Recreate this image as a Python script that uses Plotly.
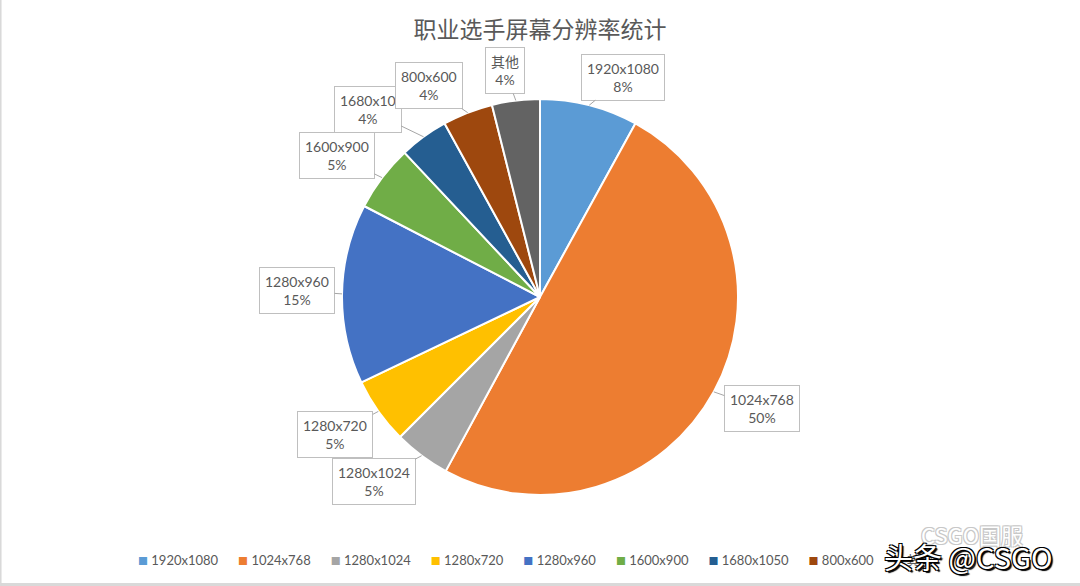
import math
import plotly.graph_objects as go

# ---- data ----
categories = ["1920x1080", "1024x768", "1280x1024", "1280x720", "1280x960",
              "1600x900", "1680x1050", "800x600", "其他"]
shares = [8.0, 49.9, 4.6, 5.4, 14.7, 5.4, 4.0, 4.1, 3.9]
label_text = ["1920x1080", "1024x768", "1280x1024", "1280x720", "1280x960",
              "1600x900", "1680x10", "800x600", "其他"]
title_text = "职业选手屏幕分辨率统计"

# ---- styles / layout ----
colors = ["#5B9BD5", "#ED7D31", "#A5A5A5", "#FFC000", "#4472C4",
          "#70AD47", "#255E91", "#9E480E", "#636363"]
label_offsets = [(34, -28), (48, 17), (-48, 26), (-43, 23), (-45, -3),
                 (-45, -22), (-56, -27), (-39, -27), (-11, -30)]

W, H = 1080, 586
ML, MR, MT, MB = 0, 0, 99, 91
PW, PH = W - ML - MR, H - MT - MB
R = min(PW, PH) / 2
CX, CY = ML + PW / 2, MT + PH / 2


def px_x(x):
    return (x - ML) / PW


def px_y(y):
    return 1 - (y - MT) / PH


fig = go.Figure(go.Pie(
    labels=categories, values=shares, sort=False, direction="clockwise",
    rotation=0, textinfo="none", showlegend=False,
    marker=dict(colors=colors, line=dict(color="white", width=2)),
))

total = sum(shares)
annotations = []
cum = 0.0
for cat, txt, v, (ox, oy) in zip(categories, label_text, shares, label_offsets):
    mid = (cum + v / 2) / total * 2 * math.pi
    cum += v
    px = CX + R * math.sin(mid)
    py = CY - R * math.cos(mid)
    pct = round(v / total * 100)
    annotations.append(dict(
        x=px_x(px), y=px_y(py), xref="paper", yref="paper",
        text=f"{txt}<br>{pct}%", showarrow=True, arrowhead=0, arrowwidth=1,
        arrowcolor="#a6a6a6", ax=ox, ay=oy, standoff=0,
        font=dict(family="Lato, Noto Sans CJK SC", size=14, color="#595959"),
        align="center", bgcolor="white", bordercolor="#bfbfbf",
        borderwidth=1, borderpad=5,
    ))

# legend (text + coloured squares), built from categories and colors
gap = "&nbsp;" * 6
legend_html = gap.join(
    f"<span style='color:{c};font-size:10px'>■</span>&nbsp;{cat}"
    for cat, c in zip(categories, colors)
)
annotations.append(dict(
    x=px_x(535), y=px_y(560), xref="paper", yref="paper", showarrow=False,
    text=legend_html, xanchor="center", yanchor="middle",
    font=dict(family="Lato, Noto Sans CJK SC", size=13, color="#595959"),
))

# watermark texts
annotations.append(dict(
    x=px_x(972), y=px_y(534), xref="paper", yref="paper",
    xanchor="center", yanchor="middle",
    text="CSGO国服", showarrow=False,
    font=dict(family="Noto Sans CJK SC", size=22, color="white",
              shadow="1px 1px 0 #c8c8c8, -1px -1px 0 #c8c8c8, 1px -1px 0 #c8c8c8, -1px 1px 0 #c8c8c8"),
))
annotations.append(dict(
    x=px_x(968), y=px_y(556), xref="paper", yref="paper",
    xanchor="center", yanchor="middle",
    text="头条 @CSGO", showarrow=False,
    font=dict(family="Noto Sans CJK SC", size=29, color="white",
              shadow="1px 1px 0 #000, -1px -1px 0 #000, 1px -1px 0 #000, -1px 1px 0 #000, 2px 2px 1px #000"),
))

fig.update_layout(
    width=W, height=H,
    margin=dict(l=ML, r=MR, t=MT, b=MB),
    paper_bgcolor="white", plot_bgcolor="white",
    showlegend=False,
    title=dict(text=title_text, x=0.5, xanchor="center", y=1 - 30 / H, yanchor="middle",
               font=dict(family="Noto Sans CJK SC", size=23, color="#595959")),
    annotations=annotations,
    shapes=[
        dict(type="line", xref="paper", yref="paper", x0=0, x1=1,
             y0=px_y(584.5), y1=px_y(584.5),
             line=dict(color="#d9d9d9", width=3)),
        dict(type="line", xref="paper", yref="paper", x0=0.0005, x1=0.0005,
             y0=px_y(586), y1=px_y(0),
             line=dict(color="#d9d9d9", width=2)),
    ],
)

fig.write_html("out.html", config={"displayModeBar": False},
               post_script="document.body.style.margin='0';document.body.style.overflow='hidden';")
